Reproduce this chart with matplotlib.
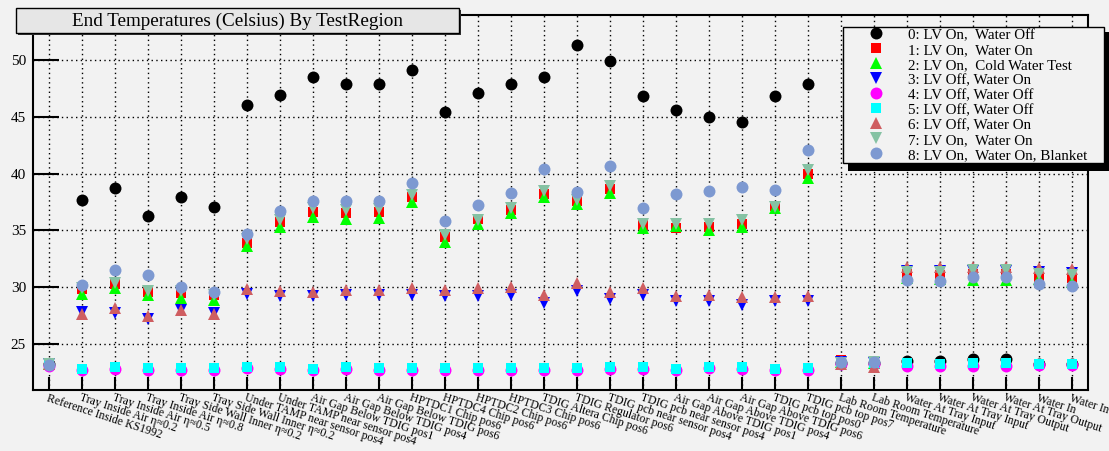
# -*- coding: utf-8 -*-
import matplotlib
matplotlib.use("Agg")
import matplotlib.pyplot as plt
import matplotlib.patches as patches

plt.rcParams["font.family"] = ["Liberation Serif", "DejaVu Serif"]

# test regions on the x axis
regions = [
    "Reference Inside KS1992",
    "Tray Inside Air η≈0.2",
    "Tray Inside Air η≈0.5",
    "Tray Inside Air η≈0.8",
    "Tray Side Wall Inner η≈0.2",
    "Tray Side Wall Inner η≈0.2",
    "Under TAMP near sensor pos4",
    "Under TAMP near sensor pos4",
    "Air Gap Below TDIG pos1",
    "Air Gap Below TDIG pos4",
    "Air Gap Below TDIG pos6",
    "HPTDC1 Chip pos6",
    "HPTDC4 Chip pos6",
    "HPTDC2 Chip pos6",
    "HPTDC3 Chip pos6",
    "TDIG Altera Chip pos6",
    "TDIG Regulator pos6",
    "TDIG pcb near sensor pos4",
    "TDIG pcb near sensor pos4",
    "Air Gap Above TDIG pos1",
    "Air Gap Above TDIG pos4",
    "Air Gap Above TDIG pos6",
    "TDIG pcb top pos0",
    "TDIG pcb top pos7",
    "Lab Room Temperature",
    "Lab Room Temperature",
    "Water At Tray Input",
    "Water At Tray Input",
    "Water At Tray Output",
    "Water At Tray Output",
    "Water In",
    "Water In",
]

# end temperatures (Celsius), one list per test
t0_lvon_wateroff = [23.2, 37.7, 38.7, 36.3, 37.9, 37.1, 46.0, 46.9, 48.5, 47.9, 47.9, 49.1,
                    45.4, 47.1, 47.9, 48.5, 51.3, 49.9, 46.8, 45.6, 45.0, 44.5, 46.8, 47.9,
                    23.3, 23.3, 23.5, 23.5, 23.7, 23.7, 23.2, 23.2]
t1_lvon_wateron = [23.2, 29.8, 30.25, 29.6, 29.5, 29.3, 33.9, 35.7, 36.6, 36.5, 36.6, 37.9,
                   34.4, 36.0, 36.8, 38.2, 37.6, 38.65, 35.5, 35.2, 35.3, 35.6, 37.15, 40.0,
                   23.6, 23.5, 31.15, 31.1, 31.2, 31.15, 30.9, 30.8]
t2_cold_water = [23.2, 29.4, 29.9, 29.3, 29.05, 28.9, 33.6, 35.3, 36.2, 36.0, 36.1, 37.5,
                 34.0, 35.6, 36.5, 37.9, 37.3, 38.3, 35.2, 35.35, 35.0, 35.3, 37.0, 39.6,
                 23.4, 23.3, 30.8, 30.7, 30.6, 30.6, 30.7, 30.5]
t3_lvoff_wateron = [23.2, 27.8, 27.7, 27.2, 28.0, 27.7, 29.4, 29.2, 29.25, 29.3, 29.3, 29.3,
                    29.2, 29.2, 29.3, 28.65, 29.7, 29.0, 29.3, 28.75, 28.75, 28.45, 28.8, 28.8,
                    23.4, 23.3, 31.4, 31.4, 31.4, 31.4, 31.3, 31.25]
t4_lvoff_wateroff = [23.1, 22.7, 22.8, 22.7, 22.7, 22.7, 22.85, 22.8, 22.7, 22.8, 22.75, 22.7,
                     22.7, 22.75, 22.7, 22.7, 22.75, 22.8, 22.8, 22.7, 22.85, 22.8, 22.7, 22.75,
                     23.2, 23.2, 23.1, 23.1, 23.1, 23.1, 23.15, 23.15]
t5_lvoff_wateroff = [23.2, 22.8, 22.95, 22.85, 22.85, 22.85, 23.0, 22.95, 22.8, 22.95, 22.9, 22.85,
                     22.85, 22.9, 22.85, 22.85, 22.9, 22.95, 22.95, 22.8, 23.0, 22.95, 22.8, 22.9,
                     23.3, 23.3, 23.3, 23.25, 23.3, 23.3, 23.25, 23.25]
t6_lvoff_wateron = [23.2, 27.6, 28.2, 27.45, 28.0, 27.65, 29.8, 29.7, 29.6, 29.75, 29.75, 29.9,
                    29.75, 29.9, 30.05, 29.3, 30.35, 29.6, 29.9, 29.2, 29.3, 29.1, 29.1, 29.25,
                    23.2, 23.0, 31.75, 31.75, 31.75, 31.75, 31.65, 31.6]
t7_lvon_wateron = [23.2, 29.9, 30.4, 29.7, 29.7, 29.3, 34.2, 35.9, 37.0, 36.8, 36.9, 38.1,
                   34.6, 35.9, 37.0, 38.5, 37.7, 38.9, 35.6, 35.6, 35.6, 35.9, 37.1, 40.3,
                   23.3, 23.4, 31.35, 31.3, 31.5, 31.5, 31.15, 31.1]
t8_blanket = [23.15, 30.15, 31.5, 31.1, 30.0, 29.55, 34.7, 36.75, 37.6, 37.6, 37.6, 39.2,
              35.85, 37.25, 38.25, 40.4, 38.35, 40.7, 37.0, 38.2, 38.45, 38.8, 38.55, 42.1,
              23.45, 23.45, 30.6, 30.55, 30.9, 30.9, 30.3, 30.1]

series = [t0_lvon_wateroff, t1_lvon_wateron, t2_cold_water, t3_lvoff_wateron,
          t4_lvoff_wateroff, t5_lvoff_wateroff, t6_lvoff_wateron, t7_lvon_wateron,
          t8_blanket]
legend_labels = [
    "0: LV On,  Water Off",
    "1: LV On,  Water On",
    "2: LV On,  Cold Water Test",
    "3: LV Off, Water On",
    "4: LV Off, Water Off",
    "5: LV Off, Water Off",
    "6: LV Off, Water On",
    "7: LV On,  Water On",
    "8: LV On,  Water On, Blanket",
]
cs_marker = ["o", "s", "^", "v", "o", "s", "^", "v", "o"]
cs_color = ["#000000", "#ff0000", "#00ff00", "#0000ff", "#ff00ff", "#00ffff",
            "#cf5e61", "#85c2a3", "#7d99d1"]
cs_size = [8.6, 7.8, 8.6, 8.6, 8.6, 7.8, 8.6, 8.6, 8.6]

W, H = 1109, 451
bg = "#f2f2f2"
fig = plt.figure(figsize=(W / 100, H / 100), dpi=100, facecolor=bg)
ax = fig.add_axes([33 / W, 1 - 390 / H, (1088 - 33) / W, (390 - 15) / H], facecolor=bg)

x = list(range(len(regions)))
handles = []
for i in range(len(series)):
    h, = ax.plot(x, series[i], linestyle="none", marker=cs_marker[i], color=cs_color[i],
                 markersize=cs_size[i], markeredgewidth=0, label=legend_labels[i], zorder=3 + i * 0.01)
    handles.append(h)

ax.set_xlim(-0.49, 31.48)
ax.set_ylim(20.95, 53.96)
ax.set_yticks([25, 30, 35, 40, 45, 50])
ax.set_xticks(x)
ax.set_xticklabels(regions, rotation=-18, ha="left", va="top", rotation_mode="anchor", fontsize=8.5)
ax.tick_params(axis="y", direction="in", length=19, width=1.5, labelsize=11, pad=5)
ax.tick_params(axis="x", direction="in", length=9.5, width=1.5, pad=1.5)
ax.grid(True, color="black", linestyle=(0, (1, 2.4)), linewidth=1.0)
ax.set_axisbelow(True)
for s in ax.spines.values():
    s.set_linewidth(1.5)


def fig_rect(x0, y0, x1, y1, **kw):
    return patches.Rectangle((x0 / W, 1 - y1 / H), (x1 - x0) / W, (y1 - y0) / H,
                             transform=fig.transFigure, **kw)


# title box
fig.patches.append(fig_rect(17.5, 9.5, 460.5, 34.5, facecolor="#333333", edgecolor="none", zorder=2))
fig.patches.append(fig_rect(16, 8, 459, 33, facecolor="#e6e6e6", edgecolor="black", linewidth=1.0, zorder=2.1))
fig.text((16 + 459) / 2 / W, 1 - 21 / H, "End Temperatures (Celsius) By TestRegion",
         ha="center", va="center", fontsize=13.8, zorder=3)

# legend with solid shadow
fig.patches.append(fig_rect(848, 32, 1109, 171, facecolor="black", edgecolor="none", zorder=4))
leg = fig.legend(handles=handles, loc="upper left", mode="expand",
                 bbox_to_anchor=(843 / W, 1 - 166 / H, (1104 - 843) / W, (166 - 27) / H),
                 fontsize=10.8, frameon=True, fancybox=False, edgecolor="black",
                 facecolor=bg, framealpha=1, borderpad=0.08, borderaxespad=0,
                 handlelength=4.2, handletextpad=0.05, labelspacing=0.1, numpoints=1)
leg.get_frame().set_linewidth(1.0)
leg.set_zorder(5)

fig.savefig("out.png", dpi=100, facecolor=bg)
